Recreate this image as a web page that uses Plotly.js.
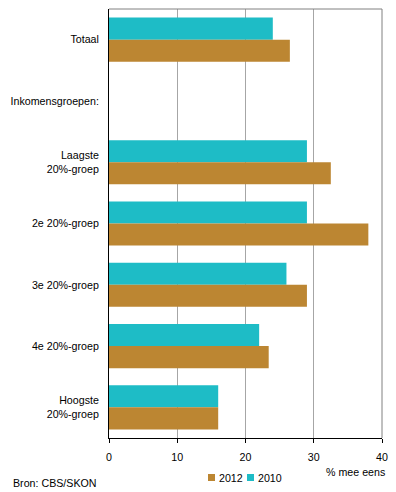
<!DOCTYPE html>
<html>
<head>
<meta charset="utf-8">
<script src="https://cdn.plot.ly/plotly-3.0.1.min.js"></script>
<style>html,body{margin:0;padding:0;background:#fff;}#chart{width:396px;height:492px;}</style>
</head>
<body>
<div id="chart"></div>
<script>
var categories = ["Totaal", "Inkomensgroepen:", "Laagste<br>20%-groep", "2e 20%-groep", "3e 20%-groep", "4e 20%-groep", "Hoogste<br>20%-groep"];
var values2010 = [24, null, 29, 29, 26, 22, 16];
var values2012 = [26.5, null, 32.5, 38, 29, 23.4, 16];
var xTicks = [0, 10, 20, 30, 40];
var seriesNames = ["2012", "2010"];

var teal = "#1EBCC6";
var ochre = "#BC8632";
var FS = 10.67;

var traces = [
  {type: "bar", orientation: "h", name: "2010", y: categories, x: values2010,
   marker: {color: teal}, hoverinfo: "x+name", showlegend: false},
  {type: "bar", orientation: "h", name: "2012", y: categories, x: values2012,
   marker: {color: ochre}, hoverinfo: "x+name", showlegend: false}
];

// plot area in pixels: x 109..382, y 9..438
function px2x(p) { return (p - 109) / 273; }
function px2y(p) { return (438 - p) / 429; }

var legendColors = [ochre, teal];
var legendBoxX = [208, 247];
var shapes = [
  {type: "line", xref: "paper", yref: "paper", x0: 0, x1: 1, y0: 1, y1: 1, line: {color: "#808080", width: 1}},
  {type: "line", xref: "paper", yref: "paper", x0: 1, x1: 1, y0: 0, y1: 1, line: {color: "#808080", width: 1}}
];
var annotations = [
  {text: "% mee eens", xref: "paper", yref: "paper", x: px2x(387), y: px2y(472),
   xanchor: "right", yanchor: "middle", showarrow: false, font: {size: FS}},
  {text: "Bron: CBS/SKON", xref: "paper", yref: "paper", x: px2x(11), y: px2y(483),
   xanchor: "left", yanchor: "middle", showarrow: false, font: {size: FS}}
];
for (var i = 0; i < seriesNames.length; i++) {
  shapes.push({type: "rect", xref: "paper", yref: "paper",
    x0: px2x(legendBoxX[i]), x1: px2x(legendBoxX[i] + 7), y0: px2y(481), y1: px2y(474),
    fillcolor: legendColors[i], line: {width: 0}});
  annotations.push({text: seriesNames[i], xref: "paper", yref: "paper",
    x: px2x(legendBoxX[i] + 9), y: px2y(477.5), xanchor: "left", yanchor: "middle",
    showarrow: false, font: {size: FS}});
}

var layout = {
  width: 396, height: 492,
  margin: {l: 109, r: 14, t: 9, b: 54},
  paper_bgcolor: "#fff", plot_bgcolor: "#fff",
  font: {family: "Liberation Sans, Arial, sans-serif", size: FS, color: "#000"},
  barmode: "group", bargap: 0.28, bargroupgap: 0,
  showlegend: false,
  xaxis: {range: [0, 40], tickvals: xTicks, ticktext: xTicks.map(String),
          showgrid: true, gridcolor: "#A6A6A6", gridwidth: 1,
          showline: true, linecolor: "#000", linewidth: 1,
          ticks: "outside", ticklen: 4, tickcolor: "#000", zeroline: false,
          ticklabelstandoff: 5, fixedrange: true, automargin: false},
  yaxis: {type: "category", autorange: "reversed", categoryorder: "array", categoryarray: categories,
          showgrid: false, showline: true, linecolor: "#000", linewidth: 1,
          ticks: "", ticklabelstandoff: 7, zeroline: false, fixedrange: true, automargin: false},
  shapes: shapes,
  annotations: annotations
};

Plotly.newPlot("chart", traces, layout, {displayModeBar: false, staticPlot: true});
</script>
</body>
</html>
